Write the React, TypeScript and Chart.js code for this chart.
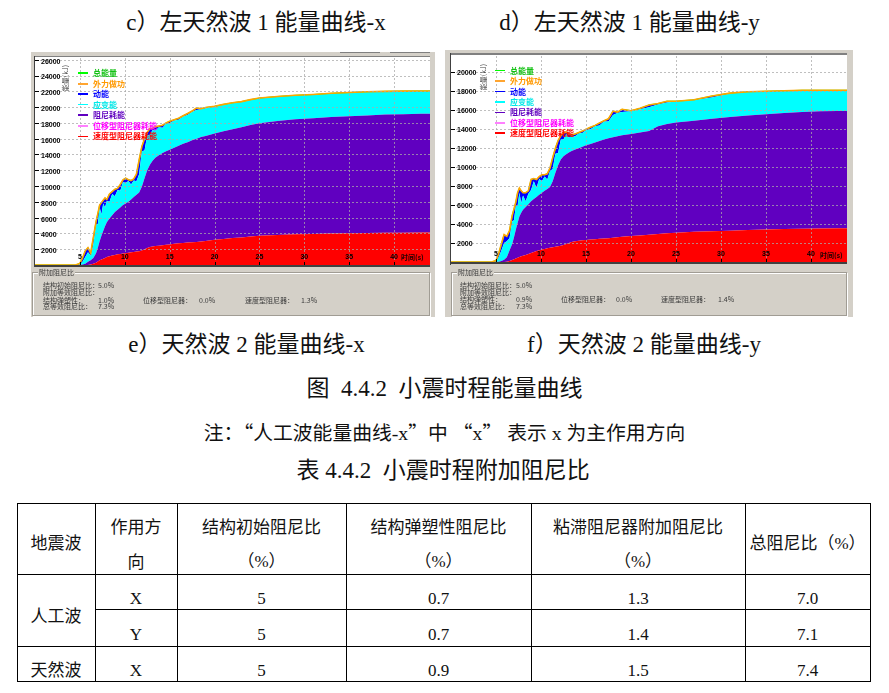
import React, { useEffect, useRef } from 'react';
import { Chart, registerables } from 'chart.js';

Chart.register(...registerables);

// ---------- data ----------
const timeS = [0, 4.5, 5, 5.3, 5.6, 5.9, 6.2, 6.5, 6.8, 7, 7.2, 7.4, 7.6, 7.8, 8, 8.3, 8.6, 8.9, 9.2, 9.5, 9.8, 10.1, 10.4, 10.7, 11, 11.3, 11.6, 11.9, 12.2, 12.5, 12.8, 13.1, 13.4, 13.8, 14.2, 14.6, 15, 15.5, 16, 16.5, 17, 17.5, 18, 18.5, 19, 20, 21, 22, 23, 24, 25, 27, 29, 31, 33, 35, 37, 39, 41, 43, 44];

const timeTicks = [5, 10, 15, 20, 25, 30, 35, 40];
const energyTicksX = [2000, 4000, 6000, 8000, 10000, 12000, 14000, 16000, 18000, 20000, 22000, 24000, 26000];
const energyTicksY = [2000, 4000, 6000, 8000, 10000, 12000, 14000, 16000, 18000, 20000];

// X direction (kJ)
const xVelocityDamper = [0, 0, 0, 0, 0, 0, 50, 150, 300, 450, 600, 700, 800, 900, 1000, 1100, 1200, 1280, 1350, 1400, 1450, 1500, 1550, 1600, 1650, 1700, 1750, 1850, 2000, 2150, 2280, 2350, 2400, 2450, 2500, 2550, 2600, 2680, 2750, 2800, 2850, 2880, 2920, 2980, 3050, 3190, 3300, 3420, 3480, 3600, 3700, 3800, 3880, 3940, 3980, 4020, 4060, 4080, 4100, 4120, 4130];
const xDispDamper = [0, 0, 0, 0, 0, 0, 0, 0, 0, 0, 0, 0, 0, 0, 0, 0, 0, 0, 0, 0, 0, 0, 0, 0, 0, 0, 0, 0, 0, 0, 0, 0, 0, 0, 0, 0, 0, 0, 0, 0, 0, 0, 0, 0, 0, 0, 0, 0, 0, 0, 0, 0, 0, 0, 0, 0, 0, 0, 0, 0, 0];
const xDamping = [0, 0, 0, 50, 150, 400, 550, 750, 1200, 1750, 2400, 3000, 3500, 4000, 4400, 4800, 5100, 5420, 5650, 5900, 6150, 6300, 6450, 6700, 6950, 7200, 7450, 8050, 9000, 9850, 10420, 10850, 11200, 11450, 11700, 11850, 12000, 12170, 12350, 12550, 12700, 12920, 13080, 13220, 13300, 13460, 13650, 13780, 13970, 14150, 14250, 14450, 14570, 14660, 14770, 14830, 14890, 14970, 15000, 15030, 15020];
const xStrain = [0, 0, 50, 350, 850, 1200, 600, 1700, 3600, 3000, 4300, 2700, 3500, 2400, 2700, 2100, 2700, 2000, 2500, 2100, 2900, 2600, 2650, 1900, 2100, 1700, 2300, 4500, 3500, 4400, 3800, 3900, 3400, 3550, 3200, 3500, 3350, 3450, 3300, 3470, 3450, 3620, 3650, 3520, 3500, 3400, 3370, 3320, 3230, 3180, 3180, 3080, 3030, 2980, 2980, 2980, 2980, 2930, 2910, 2880, 2880];
const xKinetic = [0, 0, 150, 500, 800, 600, 300, 900, 400, 1300, 300, 1500, 400, 1200, 200, 1000, 300, 900, 200, 800, 300, 600, 150, 500, 200, 900, 1800, 600, 1500, 400, 800, 200, 500, 150, 300, 100, 250, 100, 200, 80, 200, 80, 250, 80, 100, 50, 30, 30, 20, 20, 20, 20, 20, 20, 20, 20, 20, 20, 20, 20, 20];

// Y direction (kJ)
const yVelocityDamper = [0, 0, 0, 0, 0, 0, 30, 100, 200, 300, 380, 450, 520, 600, 650, 750, 850, 950, 1050, 1150, 1250, 1310, 1380, 1450, 1500, 1550, 1600, 1650, 1720, 1800, 1900, 2000, 2100, 2180, 2250, 2300, 2330, 2360, 2400, 2440, 2480, 2510, 2550, 2600, 2650, 2740, 2800, 2880, 2950, 3020, 3080, 3180, 3250, 3300, 3380, 3430, 3470, 3500, 3530, 3550, 3560];
const yDispDamper = [0, 0, 0, 0, 0, 0, 0, 0, 0, 0, 0, 0, 0, 0, 0, 0, 0, 0, 0, 0, 0, 0, 0, 0, 0, 0, 0, 0, 0, 0, 0, 0, 0, 0, 0, 0, 0, 0, 0, 0, 0, 0, 0, 0, 0, 0, 0, 0, 0, 0, 0, 0, 0, 0, 0, 0, 0, 0, 0, 0, 0];
const yDamping = [0, 0, 0, 30, 100, 250, 470, 1100, 1700, 2300, 3020, 3650, 4280, 4600, 4850, 5050, 5250, 5450, 5600, 5700, 5850, 5990, 6120, 6250, 6400, 6950, 7800, 8550, 9080, 9350, 9450, 9550, 9600, 9670, 9750, 9850, 9970, 10090, 10200, 10310, 10420, 10540, 10600, 10650, 10700, 10760, 10850, 10920, 11350, 11530, 11620, 11720, 11850, 11980, 12070, 12140, 12230, 12320, 12350, 12370, 12360];
const yStrain = [0, 0, 50, 470, 1100, 1750, 1700, 1300, 2400, 1800, 2500, 1800, 2500, 1000, 1500, 600, 1100, 1200, 1850, 950, 1650, 1200, 1500, 1000, 1700, 1300, 2000, 1300, 2100, 1750, 2150, 1550, 1550, 1400, 1550, 1450, 1600, 1550, 1720, 1650, 1920, 1750, 2350, 2450, 2450, 2400, 2450, 2500, 2300, 2250, 2220, 2170, 2250, 2470, 2480, 2410, 2330, 2260, 2200, 2160, 2160];
const yKinetic = [0, 0, 100, 400, 700, 900, 500, 800, 600, 1200, 400, 1400, 500, 1300, 300, 900, 300, 1100, 300, 900, 250, 700, 200, 600, 300, 1200, 600, 1300, 400, 700, 200, 400, 150, 250, 100, 200, 100, 200, 80, 250, 80, 300, 400, 100, 300, 50, 100, 250, 100, 150, 30, 30, 150, 50, 20, 20, 20, 20, 20, 20, 20];

const legendLabels = ['总能量', '外力做功', '动能', '应变能', '阻尼耗能', '位移型阻尼器耗能', '速度型阻尼器耗能'];
const legendLineColors = ['#00ff00', '#ffa530', '#0000ff', '#00ffff', '#6000c0', '#ff80ff', '#ff0000'];
const legendTextColors = ['#10c010', '#ff9900', '#0000ff', '#00e8e8', '#6000c0', '#ff00ff', '#ff0000'];

const panelRowLabels = ['结构初始阻尼比：', '附加等效阻尼比：', '结构弹塑性：', '总等效阻尼比：'];
const leftPanelValues = ['5.0%', '1.0%', '0.0%', '1.3%', '7.3%'];
const rightPanelValues = ['5.0%', '0.9%', '0.0%', '1.4%', '7.3%'];

const tableWave = ['人工波', '天然波'];
const tableDirection = ['X', 'Y', 'X'];
const tableInitial = ['5', '5', '5'];
const tablePlastic = ['0.7', '0.7', '0.9'];
const tableViscous = ['1.3', '1.4', '1.5'];
const tableTotal = ['7.0', '7.1', '7.4'];

// ---------- styles ----------
const SERIF = '"Liberation Serif", "Noto Sans CJK SC", serif';
const CJK = '"Noto Sans CJK SC", sans-serif';
const UI = '"Noto Sans CJK SC", "Liberation Sans", sans-serif';
const WIN_GRAY = '#d4d0c8';
const GRID = 'rgba(170,170,170,0.75)';

const zeroPad = (s: any) => {
  s.paddingTop = 0; s.paddingBottom = 0; s.paddingLeft = 0; s.paddingRight = 0;
};

type EnergyProps = {
  left: number; top: number; width: number; height: number;
  yMax: number; yTicks: number[]; labelOffset: number;
  velocity: number[]; disp: number[]; damping: number[]; strain: number[]; kinetic: number[];
};

function EnergyChart(p: EnergyProps) {
  const ref = useRef<HTMLCanvasElement>(null);
  useEffect(() => {
    const pts = (arr: number[]) => arr.map((v, i) => ({ x: timeS[i], y: v }));
    const total = timeS.map((_, i) => p.velocity[i] + p.disp[i] + p.damping[i] + p.strain[i] + p.kinetic[i]);
    const area = (label: string, data: number[], color: string, fill: any) => ({
      label, data: pts(data), backgroundColor: color, borderColor: 'rgba(0,0,0,0)', borderWidth: 0,
      fill, stack: 'energy', pointRadius: 0,
    });
    const tickFont = { family: '"Liberation Sans", Arial, sans-serif', size: 7, weight: 'bold' as const };

    // dotted grid over the filled areas (as in the source program) and short tick marks inside the frame
    const gridAndTicks = {
      id: 'gridAndTicks',
      afterDatasetsDraw(c: any) {
        const ctx: CanvasRenderingContext2D = c.ctx;
        const a = c.chartArea;
        const xs = c.scales.x;
        const ys = c.scales.y;
        ctx.save();
        ctx.fillStyle = GRID;
        p.yTicks.forEach((v) => {
          const y = Math.round(ys.getPixelForValue(v));
          for (let x = Math.ceil(a.left) + 1; x < a.right; x += 4) ctx.fillRect(x, y, 2, 1);
        });
        timeTicks.forEach((v) => {
          const x = Math.round(xs.getPixelForValue(v));
          for (let y = Math.ceil(a.top) + 1; y < a.bottom; y += 4) ctx.fillRect(x, y, 1, 2);
        });
        ctx.fillStyle = '#000';
        p.yTicks.forEach((v) => {
          const y = Math.round(ys.getPixelForValue(v));
          ctx.fillRect(a.left, y, 4, 1);
        });
        timeTicks.forEach((v) => {
          const x = Math.round(xs.getPixelForValue(v));
          ctx.fillRect(x, a.bottom - 3, 1, 3);
        });
        ctx.restore();
      },
    };

    const chart = new Chart(ref.current!, {
      type: 'line',
      data: {
        datasets: [
          { label: '外力做功', data: pts(total), borderColor: '#ffa500', borderWidth: 1.6, fill: false, stack: 'work', pointRadius: 0 },
          { label: '总能量', data: pts(total), borderColor: '#00ff00', borderWidth: 1, fill: false, stack: 'total', pointRadius: 0 },
          area('速度型阻尼器耗能', p.velocity, '#ff0000', 'origin'),
          area('位移型阻尼器耗能', p.disp, '#ff80ff', '-1'),
          area('阻尼耗能', p.damping, '#6000c0', '-1'),
          area('应变能', p.strain, '#00ffff', '-1'),
          area('动能', p.kinetic, '#0000ff', '-1'),
        ] as any,
      },
      options: {
        responsive: false,
        maintainAspectRatio: false,
        animation: false,
        events: [],
        layout: { padding: 0 },
        elements: { line: { tension: 0 }, point: { radius: 0 } },
        plugins: { legend: { display: false }, tooltip: { enabled: false } },
        scales: {
          x: {
            type: 'linear', min: 0, max: 44,
            afterBuildTicks: (s: any) => { s.ticks = timeTicks.map((v) => ({ value: v })); },
            afterFit: (s: any) => { s.height = 0; zeroPad(s); },
            grid: { display: false, drawTicks: false },
            border: { display: false },
            ticks: { mirror: true, padding: 4, z: 2, color: '#000', font: tickFont, maxRotation: 0, autoSkip: false, callback: (v: any) => String(v) },
          },
          y: {
            type: 'linear', stacked: true, min: 0, max: p.yMax,
            afterBuildTicks: (s: any) => { s.ticks = p.yTicks.map((v) => ({ value: v })); },
            afterFit: (s: any) => { s.width = 0; zeroPad(s); },
            grid: { display: false, drawTicks: false },
            border: { display: false },
            ticks: { mirror: true, padding: 6, labelOffset: p.labelOffset, z: 2, color: '#000', font: tickFont, autoSkip: false, callback: (v: any) => String(v) },
          },
        },
      } as any,
      plugins: [gridAndTicks],
    });
    return () => chart.destroy();
  }, []);
  return (
    <canvas
      ref={ref}
      width={p.width}
      height={p.height}
      style={{ position: 'absolute', left: p.left, top: p.top, width: p.width, height: p.height, background: '#fff' }}
    />
  );
}

function abs(left: number, top: number, extra: React.CSSProperties = {}): React.CSSProperties {
  return { position: 'absolute', left, top, ...extra };
}

function Legend({ x, y, step }: { x: number; y: number; step: number }) {
  return (
    <>
      {legendLabels.map((lab, i) => (
        <React.Fragment key={lab}>
          <div style={abs(x, y + i * step - (i === 1 || i === 5 ? 1 : 0.75), {
            width: 10, height: i === 1 || i === 5 ? 2 : 1.5, background: legendLineColors[i],
          })} />
          <div style={abs(x + 15, y + i * step - 5, {
            fontFamily: UI, fontSize: 8, lineHeight: '10px', color: legendTextColors[i], whiteSpace: 'nowrap', fontWeight: 'bold',
          })}>{lab}</div>
        </React.Fragment>
      ))}
    </>
  );
}

function SmallText({ x, cy, text, color = '#3a3a3a' }: { x: number; cy: number; text: string; color?: string }) {
  return (
    <div style={abs(x, cy - 4, { fontFamily: UI, fontSize: 7, lineHeight: '8px', color, whiteSpace: 'nowrap' })}>{text}</div>
  );
}

function Panel({ left, top, width, height, lx, vals, rows, cols }:
  { left: number; top: number; width: number; height: number; lx: number; vals: string[]; rows: number[]; cols: number[] }) {
  return (
    <>
      <div style={abs(left, top, { width: width - 2, height: height - 2, border: '1px solid #a09c94', boxShadow: '1px 1px 0 #ffffff inset, 1px 1px 0 #ffffff' })} />
      <div style={abs(left + 6, top - 4, { background: WIN_GRAY, padding: '0 1px', fontFamily: UI, fontSize: 7, lineHeight: '8px', color: '#3a3a3a' })}>附加阻尼比</div>
      <SmallText x={lx} cy={rows[0]} text={panelRowLabels[0]} />
      <SmallText x={cols[0]} cy={rows[0]} text={vals[0]} />
      <SmallText x={lx} cy={rows[1]} text={panelRowLabels[1]} />
      <SmallText x={lx} cy={rows[2]} text={panelRowLabels[2]} />
      <SmallText x={cols[0]} cy={rows[2]} text={vals[1]} />
      <SmallText x={cols[1]} cy={rows[2]} text="位移型阻尼器：" />
      <SmallText x={cols[2]} cy={rows[2]} text={vals[2]} />
      <SmallText x={cols[3]} cy={rows[2]} text="速度型阻尼器：" />
      <SmallText x={cols[4]} cy={rows[2]} text={vals[3]} />
      <SmallText x={lx} cy={rows[3]} text={panelRowLabels[3]} />
      <SmallText x={cols[0]} cy={rows[3]} text={vals[4]} />
    </>
  );
}

function CText({ children, cx, cy, size }: { children: React.ReactNode; cx: number; cy: number; size: number }) {
  return (
    <div style={abs(cx - 300, cy - size * 0.7, {
      width: 600, height: size * 1.4, lineHeight: `${size * 1.4}px`, textAlign: 'center',
      fontFamily: SERIF, fontSize: size, color: '#111', whiteSpace: 'pre',
    })}>{children}</div>
  );
}

const Q = ({ c }: { c: string }) => <span style={{ fontFamily: CJK }}>{c}</span>;

function HLine({ x1, x2, y }: { x1: number; x2: number; y: number }) {
  return <div style={abs(x1, y, { width: x2 - x1 + 1, height: 1, background: '#000' })} />;
}
function VLine({ x, y1, y2 }: { x: number; y1: number; y2: number }) {
  return <div style={abs(x, y1, { width: 1, height: y2 - y1 + 1, background: '#000' })} />;
}

export default function App() {
  const colX = [17, 95, 177, 346, 531, 745, 870];
  const colC = [56, 136, 261.5, 438.5, 638, 807.5];
  const rowY = [599, 635, 671];
  const TS = 17;
  return (
    <div style={{ position: 'absolute', left: 0, top: 0, width: 889, height: 693, overflow: 'hidden', background: '#fff' }}>
      {/* captions top */}
      <CText cx={256} cy={23} size={23}>c）左天然波 1 能量曲线-x</CText>
      <CText cx={629.5} cy={23} size={23}>d）左天然波 1 能量曲线-y</CText>

      {/* left screenshot */}
      <div style={abs(31, 52, { width: 404, height: 265, background: WIN_GRAY })} />
      <div style={abs(340, 52, { width: 40, height: 1, background: '#808080' })} />
      <div style={abs(390, 52, { width: 40, height: 1, background: '#808080' })} />
      <EnergyChart left={35} top={57} width={395} height={208} yMax={26350} yTicks={energyTicksX} labelOffset={2}
        velocity={xVelocityDamper} disp={xDispDamper} damping={xDamping} strain={xStrain} kinetic={xKinetic} />
      <div style={abs(34, 56, { width: 396, height: 1, background: '#808080' })} />
      <div style={abs(34, 56, { width: 1, height: 211, background: '#404040' })} />
      <div style={abs(34, 265, { width: 396, height: 2, background: '#404040' })} />
      <Legend x={78} y={73} step={10.55} />
      <div style={abs(64.5 - 15, 78 - 4, { width: 30, height: 8, transform: 'rotate(-90deg)', fontFamily: UI, fontSize: 7, lineHeight: '8px', color: '#404040', textAlign: 'center', whiteSpace: 'nowrap' })}>能量(kJ)</div>
      <div style={abs(401, 253, { fontFamily: UI, fontSize: 7, lineHeight: '8px', color: '#200000', fontWeight: 'bold', whiteSpace: 'nowrap' })}>时间(s)</div>
      <Panel left={32} top={272} width={398} height={44} lx={43} vals={leftPanelValues}
        rows={[285, 292.3, 300, 306]} cols={[98, 143, 199, 245, 301]} />

      {/* right screenshot */}
      <div style={abs(445, 50, { width: 408, height: 267, background: WIN_GRAY })} />
      <EnergyChart left={451} top={55} width={396} height={207} yMax={21820} yTicks={energyTicksY} labelOffset={1}
        velocity={yVelocityDamper} disp={yDispDamper} damping={yDamping} strain={yStrain} kinetic={yKinetic} />
      <div style={abs(450, 53, { width: 397, height: 2, background: '#808080' })} />
      <div style={abs(450, 53, { width: 1, height: 212, background: '#404040' })} />
      <div style={abs(450, 262, { width: 397, height: 2, background: '#404040' })} />
      <Legend x={495} y={70.7} step={10.4} />
      <div style={abs(482.5 - 15, 77 - 4, { width: 30, height: 8, transform: 'rotate(-90deg)', fontFamily: UI, fontSize: 7, lineHeight: '8px', color: '#404040', textAlign: 'center', whiteSpace: 'nowrap' })}>能量(kJ)</div>
      <div style={abs(820, 251, { fontFamily: UI, fontSize: 7, lineHeight: '8px', color: '#200000', fontWeight: 'bold', whiteSpace: 'nowrap' })}>时间(s)</div>
      <Panel left={451} top={272} width={396} height={44} lx={460} vals={rightPanelValues}
        rows={[285, 292, 299.3, 305.7]} cols={[516, 561, 616, 661, 718]} />

      {/* captions bottom */}
      <CText cx={246.5} cy={345} size={23}>e）天然波 2 能量曲线-x</CText>
      <CText cx={644} cy={345} size={23}>f）天然波 2 能量曲线-y</CText>
      <CText cx={444.5} cy={389} size={23}>图  4.4.2  小震时程能量曲线</CText>
      <CText cx={444.5} cy={432} size={19.8}>注：<Q c="“" />人工波能量曲线-x<Q c="”" />中 <Q c="“" />x<Q c="”" /> 表示 x 为主作用方向</CText>
      <CText cx={443} cy={471} size={23}>表 4.4.2  小震时程附加阻尼比</CText>

      {/* table */}
      <HLine x1={17} x2={870} y={503} />
      <HLine x1={17} x2={870} y={574} />
      <HLine x1={95} x2={870} y={609} />
      <HLine x1={17} x2={870} y={646} />
      <HLine x1={17} x2={870} y={681} />
      {colX.map((x) => <VLine key={x} x={x} y1={503} y2={681} />)}

      <CText cx={colC[0]} cy={544} size={TS}>地震波</CText>
      <CText cx={colC[1]} cy={528} size={TS}>作用方</CText>
      <CText cx={colC[1]} cy={563} size={TS}>向</CText>
      <CText cx={colC[2]} cy={528} size={TS}>结构初始阻尼比</CText>
      <CText cx={colC[2]} cy={562} size={TS}>（%）</CText>
      <CText cx={colC[3]} cy={528} size={TS}>结构弹塑性阻尼比</CText>
      <CText cx={colC[3]} cy={562} size={TS}>（%）</CText>
      <CText cx={colC[4]} cy={528} size={TS}>粘滞阻尼器附加阻尼比</CText>
      <CText cx={colC[4]} cy={562} size={TS}>（%）</CText>
      <CText cx={colC[5]} cy={544} size={TS}>总阻尼比（%）</CText>

      <CText cx={colC[0]} cy={617} size={TS}>{tableWave[0]}</CText>
      <CText cx={colC[0]} cy={671} size={TS}>{tableWave[1]}</CText>
      {rowY.map((cy, i) => (
        <React.Fragment key={i}>
          <CText cx={colC[1]} cy={cy} size={TS}>{tableDirection[i]}</CText>
          <CText cx={colC[2]} cy={cy} size={TS}>{tableInitial[i]}</CText>
          <CText cx={colC[3]} cy={cy} size={TS}>{tablePlastic[i]}</CText>
          <CText cx={colC[4]} cy={cy} size={TS}>{tableViscous[i]}</CText>
          <CText cx={colC[5]} cy={cy} size={TS}>{tableTotal[i]}</CText>
        </React.Fragment>
      ))}
    </div>
  );
}
